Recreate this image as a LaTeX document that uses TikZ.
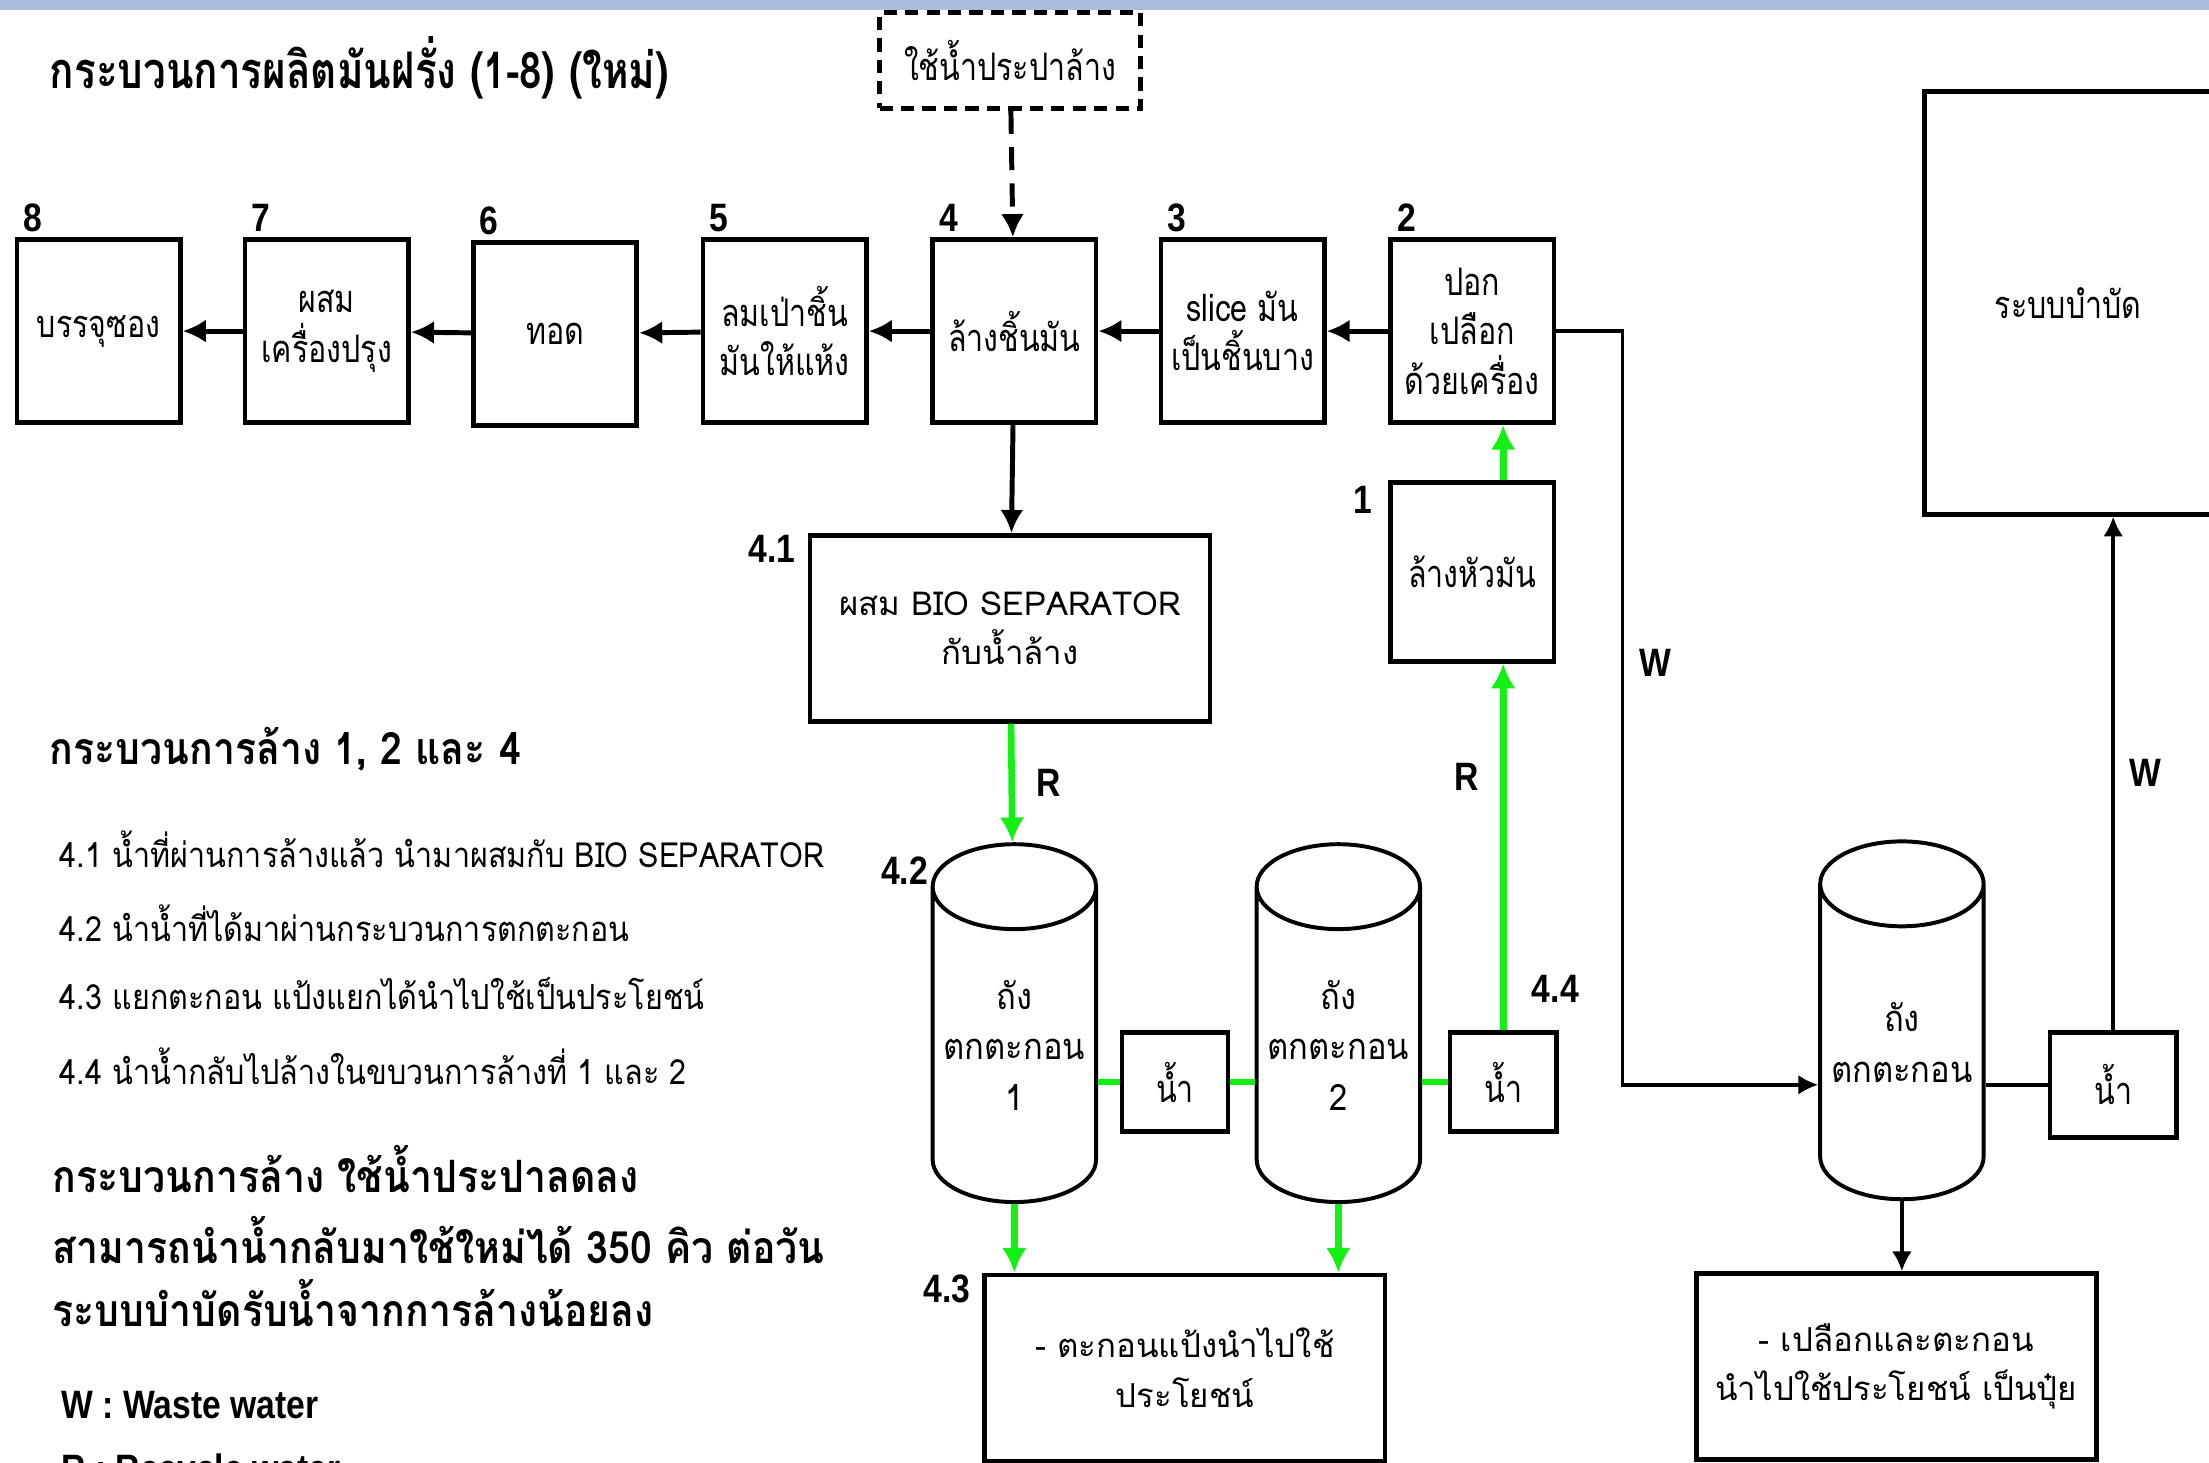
\documentclass[tikz,border=0pt]{standalone}
\usepackage{fontspec}
\setmainfont[Script=Thai]{Loma}
\newfontfamily\narrowfont[Script=Thai,FakeStretch=0.8]{Loma}
\newfontfamily\tankfont[Script=Thai,FakeStretch=0.9]{Loma}
\newfontfamily\notefont[Script=Thai,FakeStretch=0.88]{Loma}
\newfontfamily\numfont[FakeStretch=0.85]{Liberation Sans}
\usepackage{tikz}
\usetikzlibrary{arrows.meta, shapes.geometric, positioning, calc}

\definecolor{barblue}{RGB}{167,191,221}
\definecolor{recgreen}{RGB}{20,240,20}

\tikzset{
    stepbox/.style={draw, line width=1.4pt, align=center, inner sep=1pt,
        minimum width=1.74cm, minimum height=1.95cm,
        font=\narrowfont\fontsize{11.5}{15}\selectfont},
    widebox/.style={stepbox, minimum width=4.26cm, minimum height=1.98cm,
        font=\fontsize{10}{15}\selectfont},
    waterbox/.style={stepbox, minimum width=1.13cm, minimum height=1.05cm},
    tapbox/.style={stepbox, dash pattern=on 4pt off 2.5pt,
        minimum width=2.78cm, minimum height=1.02cm},
    tank/.style={draw, line width=1.2pt, cylinder, shape border rotate=90,
        aspect=0.6, minimum width=1.74cm, minimum height=3.81cm,
        align=center, inner sep=0pt, font=\tankfont\fontsize{11}{15.3}\selectfont},
    numlbl/.style={inner sep=0.5pt, text=black, font=\numfont\bfseries\fontsize{12}{14}\selectfont},
    note/.style={anchor=west, inner sep=0pt, font=\notefont\fontsize{10.5}{13}\selectfont},
    headnote/.style={anchor=west, inner sep=0pt, font=\notefont\bfseries\fontsize{13.5}{16}\selectfont},
    flow/.style={line width=1.5pt, -{Latex[length=7pt, width=7pt]}},
    recflow/.style={recgreen, line width=2pt, -{Latex[length=7.5pt, width=7.5pt]}},
    recline/.style={recgreen, line width=2pt},
    waste/.style={line width=1.1pt, -{Latex[length=6pt, width=6pt]}},
    wasteline/.style={line width=1.1pt}
}

\begin{document}
\begin{tikzpicture}[x=0.015cm, y=-0.015cm]
    \useasboundingbox (0,0) rectangle (1568,1038);
    \clip (0,0) rectangle (1568,1038);
    \fill[barblue] (0,0) rectangle (1568,7);

    % title
    \node[anchor=west, inner sep=0pt, font=\narrowfont\bfseries\fontsize{15.3}{18}\selectfont]
        (title) at (35,48) {กระบวนการผลิตมันฝรั่ง (1-8) (ใหม่)};
    \node[tapbox] (tap) at (717,43) {ใช้น้ำประปาล้าง};

    % main line 1-8
    \node[stepbox] (s8) at (70,235) {บรรจุซอง};
    \node[stepbox] (s7) at (232,235) {ผสม\\เครื่องปรุง};
    \node[stepbox] (s6) at (394,237) {ทอด};
    \node[stepbox] (s5) at (557,235) {ลมเป่าชิ้น\\มันให้แห้ง};
    \node[stepbox] (s4) at (720,235) {ล้างชิ้นมัน};
    \node[stepbox] (s3) at (882,235) {slice มัน\\เป็นชิ้นบาง};
    \node[stepbox] (s2) at (1045,235) {ปอก\\เปลือก\\ด้วยเครื่อง};
    \node[stepbox, minimum height=1.9cm] (s1) at (1045,406) {ล้างหัวมัน};

    \node[numlbl, above right=1pt and 2pt of s8.north west] (n8) {8};
    \node[numlbl, above right=1pt and 2pt of s7.north west] (n7) {7};
    \node[numlbl, above right=1pt and 2pt of s6.north west] (n6) {6};
    \node[numlbl, above right=1pt and 2pt of s5.north west] (n5) {5};
    \node[numlbl, above right=1pt and 2pt of s4.north west] (n4) {4};
    \node[numlbl, above right=1pt and 2pt of s3.north west] (n3) {3};
    \node[numlbl, above right=1pt and 2pt of s2.north west] (n2) {2};
    \node[numlbl, below left=1pt and 4pt of s1.north west] (n1) {1};

    \draw[flow] (s2) -- (s3);
    \draw[flow] (s3) -- (s4);
    \draw[flow] (s4) -- (s5);
    \draw[flow] (s5) -- (s6);
    \draw[flow] (s6) -- (s7);
    \draw[flow] (s7) -- (s8);
    \draw[flow, dash pattern=on 7pt off 4pt] (tap) -- (s4);

    % washing water loop
    \node[widebox] (b41) at (717,446) {ผสม BIO SEPARATOR\\กับน้ำล้าง};
    \node[numlbl, below left=0pt and 3pt of b41.north west] (n41) {4.1};
    \draw[flow] (s4) -- (b41);

    \node[tank] (tank1) at (720,742) {ถัง\\ตกตะกอน\\1};
    \node[tank] (tank2) at (950,742) {ถัง\\ตกตะกอน\\2};
    \node[numlbl] (n42) at (642,618) {4.2};
    \node[waterbox] (wat1) at (834,768) {น้ำ};
    \node[waterbox] (wat2) at (1067,768) {น้ำ};
    \node[numlbl] (n44) at (1104,702) {4.4};

    \node[widebox] (b43) at (841,971) {- ตะกอนแป้งนำไปใช้\\ประโยชน์};
    \node[numlbl, below left=0pt and 3pt of b43.north west] (n43) {4.3};

    \draw[recflow] (b41) -- node[numlbl, right=6pt] (r1) {R} (tank1);
    \draw[recline] (tank1.east |- wat1.west) -- (wat1.west);
    \draw[recline] (wat1.east) -- (tank2.west |- wat1.east);
    \draw[recline] (tank2.east |- wat2.west) -- (wat2.west);
    \draw[recflow] (tank1.south) -- (tank1.south |- b43.north);
    \draw[recflow] (tank2.south) -- (tank2.south |- b43.north);
    \draw[recflow] (wat2.north) -- node[numlbl, pos=0.69, left=6pt] (r2) {R} (wat2.north |- s1.south);
    \draw[recflow] (wat2.north |- s1.north) -- (wat2.north |- s2.south);

    % waste water
    \node[stepbox, minimum width=3.06cm, minimum height=4.5cm] (treat) at (1468,215) {ระบบบำบัด};
    \node[tank] (tank3) at (1350,740) {ถัง\\ตกตะกอน};
    \node[waterbox, minimum width=1.35cm, minimum height=1.12cm] (wat3) at (1500,770) {น้ำ};
    \node[widebox] (fert) at (1346,970) {- เปลือกและตะกอน\\นำไปใช้ประโยชน์ เป็นปุ๋ย};

    \draw[waste] (s2.east) -- ++(47,0) |- node[numlbl, pos=0.22, right=4pt] (w1) {W} (tank3.west |- wat3.west);
    \draw[wasteline] (tank3.east |- wat3.west) -- (wat3.west);
    \draw[waste] (wat3.north) -- node[numlbl, right=4pt] (w2) {W} (wat3.north |- treat.south);
    \draw[waste] (tank3.south) -- (tank3.south |- fert.north);

    % notes
    \node[headnote] (h1) at (35,532) {กระบวนการล้าง 1, 2 และ 4};
    \node[note] (t1) at (42,603) {4.1 น้ำที่ผ่านการล้างแล้ว นำมาผสมกับ BIO SEPARATOR};
    \node[note] (t2) at (42,655) {4.2 นำน้ำที่ได้มาผ่านกระบวนการตกตะกอน};
    \node[note] (t3) at (42,705) {4.3 แยกตะกอน แป้งแยกได้นำไปใช้เป็นประโยชน์};
    \node[note] (t4) at (42,757) {4.4 นำน้ำกลับไปล้างในขบวนการล้างที่ 1 และ 2};
    \node[headnote] (h2) at (37,830) {กระบวนการล้าง ใช้น้ำประปาลดลง};
    \node[headnote] (h3) at (37,880) {สามารถนำน้ำกลับมาใช้ใหม่ได้ 350 คิว ต่อวัน};
    \node[headnote] (h4) at (37,925) {ระบบบำบัดรับน้ำจากการล้างน้อยลง};
    \node[numlbl, anchor=west] (lw) at (42,997) {W : Waste water};
    \node[numlbl, anchor=west] (lr) at (42,1045) {R : Recycle water};
\end{tikzpicture}
\end{document}
